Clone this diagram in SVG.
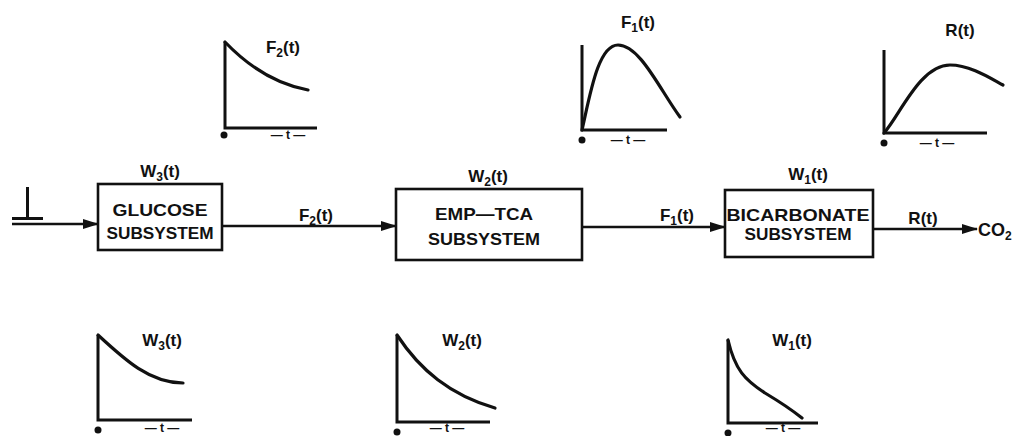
<svg xmlns="http://www.w3.org/2000/svg" width="1022" height="436" viewBox="0 0 1022 436">
<style>
text{font-family:"Liberation Sans",Arial,sans-serif;font-weight:bold;fill:#111}
.box{fill:#fff;stroke:#111;stroke-width:2.6}
.ln{fill:none;stroke:#111;stroke-width:2.6}
.ax{fill:none;stroke:#111;stroke-width:3}
.cv{fill:none;stroke:#111;stroke-width:3.2;stroke-linecap:round}
.bt{font-size:17px;text-anchor:middle}
.lb{font-size:17px;text-anchor:middle}
.tk{font-size:12px;text-anchor:middle}
.sb{font-size:12px}
</style>
<defs>
<marker id="ah" markerWidth="16" markerHeight="10" refX="15" refY="5" orient="auto" markerUnits="userSpaceOnUse">
<path d="M0,0 L16,5 L0,10 Z" fill="#111"/>
</marker>
</defs>
<rect width="1022" height="436" fill="#fff"/>

<g id="input">
<path d="M27.5,187 V218 M12,218.5 H43" class="ax" stroke-width="4"/>
</g>

<g id="connectors">
<line x1="12" y1="224" x2="98" y2="224" class="ln" marker-end="url(#ah)"/>
<line x1="222" y1="226" x2="396" y2="226" class="ln" marker-end="url(#ah)"/>
<line x1="582" y1="227" x2="725" y2="227" class="ln" marker-end="url(#ah)"/>
<line x1="873" y1="229" x2="977" y2="229" class="ln" marker-end="url(#ah)"/>
<text class="lb" x="316" y="221">F<tspan class="sb" dy="4">2</tspan><tspan dy="-4">(t)</tspan></text>
<text class="lb" x="677" y="221">F<tspan class="sb" dy="4">1</tspan><tspan dy="-4">(t)</tspan></text>
<text class="lb" x="923" y="224">R(t)</text>
<text x="978" y="236" font-size="18">CO<tspan class="sb" font-size="13" dy="4">2</tspan></text>
</g>

<g id="glucose">
<rect x="98" y="184" width="124" height="66" class="box"/>
<text class="bt" x="160" y="216" textLength="95" lengthAdjust="spacingAndGlyphs">GLUCOSE</text>
<text class="bt" x="160" y="239" textLength="107" lengthAdjust="spacingAndGlyphs">SUBSYSTEM</text>
<text class="lb" x="160" y="177">W<tspan class="sb" dy="4">3</tspan><tspan dy="-4">(t)</tspan></text>
</g>

<g id="emptca">
<rect x="396" y="189" width="186" height="71" class="box"/>
<text class="bt" x="484" y="220" textLength="98" lengthAdjust="spacingAndGlyphs">EMP—TCA</text>
<text class="bt" x="484" y="245" textLength="112" lengthAdjust="spacingAndGlyphs">SUBSYSTEM</text>
<text class="lb" x="488" y="182">W<tspan class="sb" dy="4">2</tspan><tspan dy="-4">(t)</tspan></text>
</g>

<g id="bicarbonate">
<rect x="725" y="190" width="148" height="67" class="box"/>
<text class="bt" x="798" y="221" textLength="143" lengthAdjust="spacingAndGlyphs">BICARBONATE</text>
<text class="bt" x="798" y="240" textLength="107" lengthAdjust="spacingAndGlyphs">SUBSYSTEM</text>
<text class="lb" x="808" y="180">W<tspan class="sb" dy="4">1</tspan><tspan dy="-4">(t)</tspan></text>
</g>

<g id="graph-F2">
<path d="M225,42 V128 H317" class="ax"/>
<path d="M225,42 C248,66 275,84 308,90" class="cv"/>
<text class="lb" x="283" y="53">F<tspan class="sb" dy="4">2</tspan><tspan dy="-4">(t)</tspan></text>
<circle cx="224" cy="135" r="3.5" fill="#111"/>
<text class="tk" x="288" y="139">— t —</text>
</g>

<g id="graph-F1">
<path d="M582,45 V130 H667" class="ax"/>
<path d="M582,130 C590,95 598,45 618,45 C640,45 660,90 680,117" class="cv"/>
<text class="lb" x="638" y="28">F<tspan class="sb" dy="4">1</tspan><tspan dy="-4">(t)</tspan></text>
<circle cx="582" cy="140" r="3.5" fill="#111"/>
<text class="tk" x="628" y="144">— t —</text>
</g>

<g id="graph-R">
<path d="M884,50 V133 H987" class="ax"/>
<path d="M884,133 C900,115 920,65 950,65 C970,65 990,78 1003,85" class="cv"/>
<text class="lb" x="960" y="36">R(t)</text>
<circle cx="884" cy="143" r="3.5" fill="#111"/>
<text class="tk" x="937" y="147">— t —</text>
</g>

<g id="graph-W3">
<path d="M98,335 V420 H192" class="ax"/>
<path d="M98,335 C125,360 150,383 183,383" class="cv"/>
<text class="lb" x="162" y="346">W<tspan class="sb" dy="4">3</tspan><tspan dy="-4">(t)</tspan></text>
<circle cx="98" cy="430" r="3.5" fill="#111"/>
<text class="tk" x="162" y="432">— t —</text>
</g>

<g id="graph-W2">
<path d="M397,335 V422 H490" class="ax"/>
<path d="M397,335 C420,370 450,395 495,408" class="cv"/>
<text class="lb" x="462" y="346">W<tspan class="sb" dy="4">2</tspan><tspan dy="-4">(t)</tspan></text>
<circle cx="397" cy="432" r="3.5" fill="#111"/>
<text class="tk" x="447" y="432">— t —</text>
</g>

<g id="graph-W1">
<path d="M728,340 V423 H818" class="ax"/>
<path d="M728,340 C735,370 745,380 765,393 C780,402 792,410 802,418" class="cv"/>
<text class="lb" x="792" y="346">W<tspan class="sb" dy="4">1</tspan><tspan dy="-4">(t)</tspan></text>
<circle cx="728" cy="433" r="3.5" fill="#111"/>
<text class="tk" x="783" y="432">— t —</text>
</g>
</svg>
